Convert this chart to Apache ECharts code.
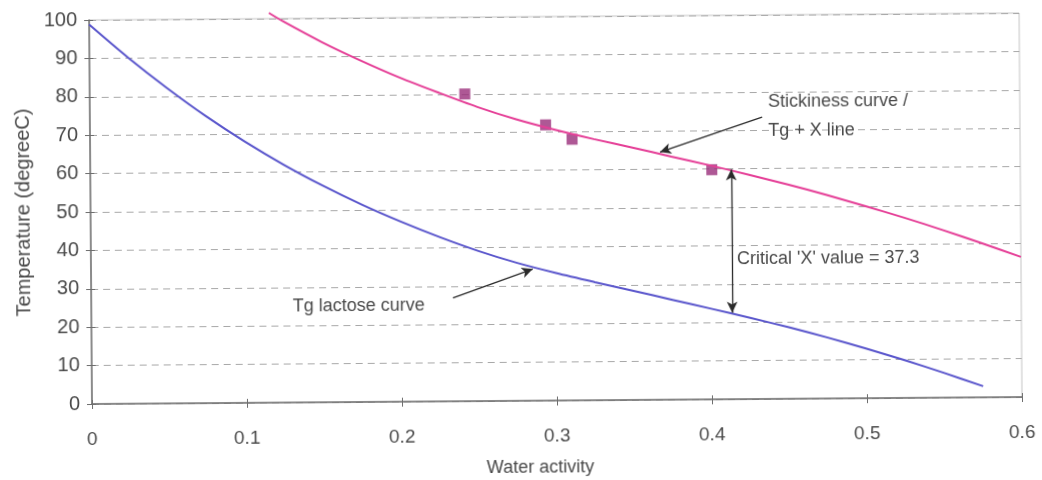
<!DOCTYPE html>
<html>
<head>
<meta charset="utf-8">
<script src="https://cdn.jsdelivr.net/npm/echarts@6.0.0/dist/echarts.min.js"></script>
<style>
  html, body { margin: 0; padding: 0; background: #fff; overflow: hidden; }
  #chart {
    position: absolute; left: 0; top: 0; width: 1042px; height: 480px;
    transform-origin: 92px 404px; transform: rotate(-0.43deg);
  }
</style>
</head>
<body>
<div id="chart"></div>
<script>
// Axis ticks
const xTickLabels = ['0', '0.1', '0.2', '0.3', '0.4', '0.5', '0.6'];
const yTickLabels = ['0', '10', '20', '30', '40', '50', '60', '70', '80', '90', '100'];

// Glass transition temperature of lactose vs water activity
const tgWaterActivity = [0, 0.025, 0.05, 0.075, 0.1, 0.125, 0.15, 0.175, 0.2, 0.225, 0.25, 0.275, 0.3,
                         0.325, 0.35, 0.375, 0.4, 0.425, 0.45, 0.475, 0.5, 0.525, 0.55, 0.575];
const tgTemperature   = [98.8, 90.1, 82.1, 74.7, 68.0, 61.9, 56.4, 51.4, 46.9, 42.8, 39.1, 35.9, 33.2,
                         30.75, 28.4, 26.0, 23.6, 21.15, 18.6, 15.85, 12.9, 9.75, 6.4, 2.9];

// Stickiness curve (Tg + X)
const stickyWaterActivity = [0.116, 0.125, 0.15, 0.175, 0.2, 0.225, 0.25, 0.275, 0.3, 0.325, 0.35,
                             0.375, 0.4, 0.425, 0.45, 0.475, 0.5, 0.525, 0.55, 0.575, 0.6];
const stickyTemperature   = [101.5, 99.3, 93.8, 88.9, 84.4, 80.4, 76.6, 73.3, 70.5, 68.0, 65.7,
                             63.3, 60.9, 58.4, 55.8, 53.0, 50.0, 46.9, 43.6, 40.1, 36.5];

// Measured sticky points
const measuredWaterActivity = [0.242, 0.294, 0.311, 0.401];
const measuredTemperature   = [80, 71.8, 68, 59.8];

// Critical X between the two curves
const criticalX = 37.3;
const criticalWaterActivity = 0.4135;
const criticalBase = 22.5;

const zip = (xs, ys) => xs.map((x, i) => [x, ys[i]]);

const FONT = '"Liberation Sans", Arial, sans-serif';
const TEXT = '#4a4a4a';
const AXIS = '#6e6e6e';

const chart = echarts.init(document.getElementById('chart'), null, { renderer: 'canvas' });

const baseX = { type: 'value', min: 0, max: 0.6, interval: 0.1 };
const baseY = { type: 'value', min: 0, max: 100, interval: 10 };

const option = {
  animation: false,
  backgroundColor: '#fff',
  grid: {
    left: 92, right: 20, top: 20, bottom: 76,
    outerBoundsMode: 'none', containLabel: false,
    show: true, borderColor: '#c4c4c4', borderWidth: 1
  },
  xAxis: [
    Object.assign({}, baseX, {
      name: 'Water activity', nameLocation: 'middle', nameGap: 58,
      nameTextStyle: { color: TEXT, fontSize: 18, fontFamily: FONT, padding: [0, 34, 0, 0] },
      axisLine: { show: true, lineStyle: { color: AXIS, width: 1.5 } },
      axisTick: { show: true, length: 5, lineStyle: { color: AXIS } },
      axisLabel: { margin: 26, color: TEXT, fontSize: 19, fontFamily: FONT,
                   formatter: (v, i) => xTickLabels[i] },
      splitLine: { show: false }
    }),
    Object.assign({}, baseX, {
      position: 'bottom',
      axisLine: { show: false },
      axisTick: { show: true, inside: true, length: 4, lineStyle: { color: AXIS } },
      axisLabel: { show: false }, splitLine: { show: false }
    })
  ],
  yAxis: [
    Object.assign({}, baseY, {
      name: 'Temperature (degreeC)', nameLocation: 'middle', nameGap: 57,
      nameTextStyle: { color: TEXT, fontSize: 20, fontFamily: FONT },
      axisLine: { show: true, lineStyle: { color: AXIS, width: 1.5 } },
      axisTick: { show: true, length: 5, lineStyle: { color: AXIS } },
      axisLabel: { margin: 12, color: TEXT, fontSize: 20, fontFamily: FONT,
                   formatter: (v, i) => yTickLabels[i] },
      splitLine: { show: true, lineStyle: { color: '#a8a8a8', width: 1, type: [7, 5] } }
    }),
    Object.assign({}, baseY, {
      position: 'left',
      axisLine: { show: false },
      axisTick: { show: true, inside: true, length: 4, lineStyle: { color: AXIS } },
      axisLabel: { show: false }, splitLine: { show: false }
    })
  ],
  series: [
    {
      name: 'Tg lactose curve', type: 'line', smooth: 0.3,
      data: zip(tgWaterActivity, tgTemperature),
      showSymbol: false, lineStyle: { color: '#5a56cc', width: 2 }
    },
    {
      name: 'Stickiness curve', type: 'line', smooth: 0.3, clip: false,
      data: zip(stickyWaterActivity, stickyTemperature),
      showSymbol: false, lineStyle: { color: '#e53f97', width: 2 }
    },
    {
      name: 'Measured', type: 'scatter', symbol: 'rect', symbolSize: 11,
      data: zip(measuredWaterActivity, measuredTemperature),
      itemStyle: { color: '#9a2e7a' },
      markLine: {
        silent: true, animation: false, precision: 3,
        label: { show: false },
        lineStyle: { color: '#2a2a2a', width: 1.3, type: 'solid' },
        symbolSize: [8, 11],
        data: [
          [ { coord: [0.4337, 73.4], symbol: 'none' }, { coord: [0.3677, 64.5], symbol: 'arrow' } ],
          [ { coord: [0.2334, 26.9], symbol: 'none' }, { coord: [0.285, 34.3], symbol: 'arrow' } ],
          [ { coord: [criticalWaterActivity, criticalBase], symbol: 'arrow' },
            { coord: [criticalWaterActivity, criticalBase + criticalX], symbol: 'arrow' } ]
        ]
      }
    }
  ]
};

chart.setOption(option);

// Annotation text, anchored in data coordinates
const notes = [
  { text: 'Stickiness curve /', at: [0.4376, 77.3] },
  { text: 'Tg + X line', at: [0.4376, 69.8] },
  { text: "Critical 'X' value = " + criticalX, at: [0.4168, 36.5] },
  { text: 'Tg lactose curve', at: [0.130, 24.9] }
];
chart.setOption({
  graphic: notes.map(n => {
    const p = chart.convertToPixel({ gridIndex: 0 }, n.at);
    return {
      type: 'text', x: p[0], y: p[1], silent: true,
      style: { text: n.text, fill: TEXT, fontSize: 18, fontFamily: FONT, verticalAlign: 'middle', align: 'left' }
    };
  })
});
</script>
</body>
</html>
